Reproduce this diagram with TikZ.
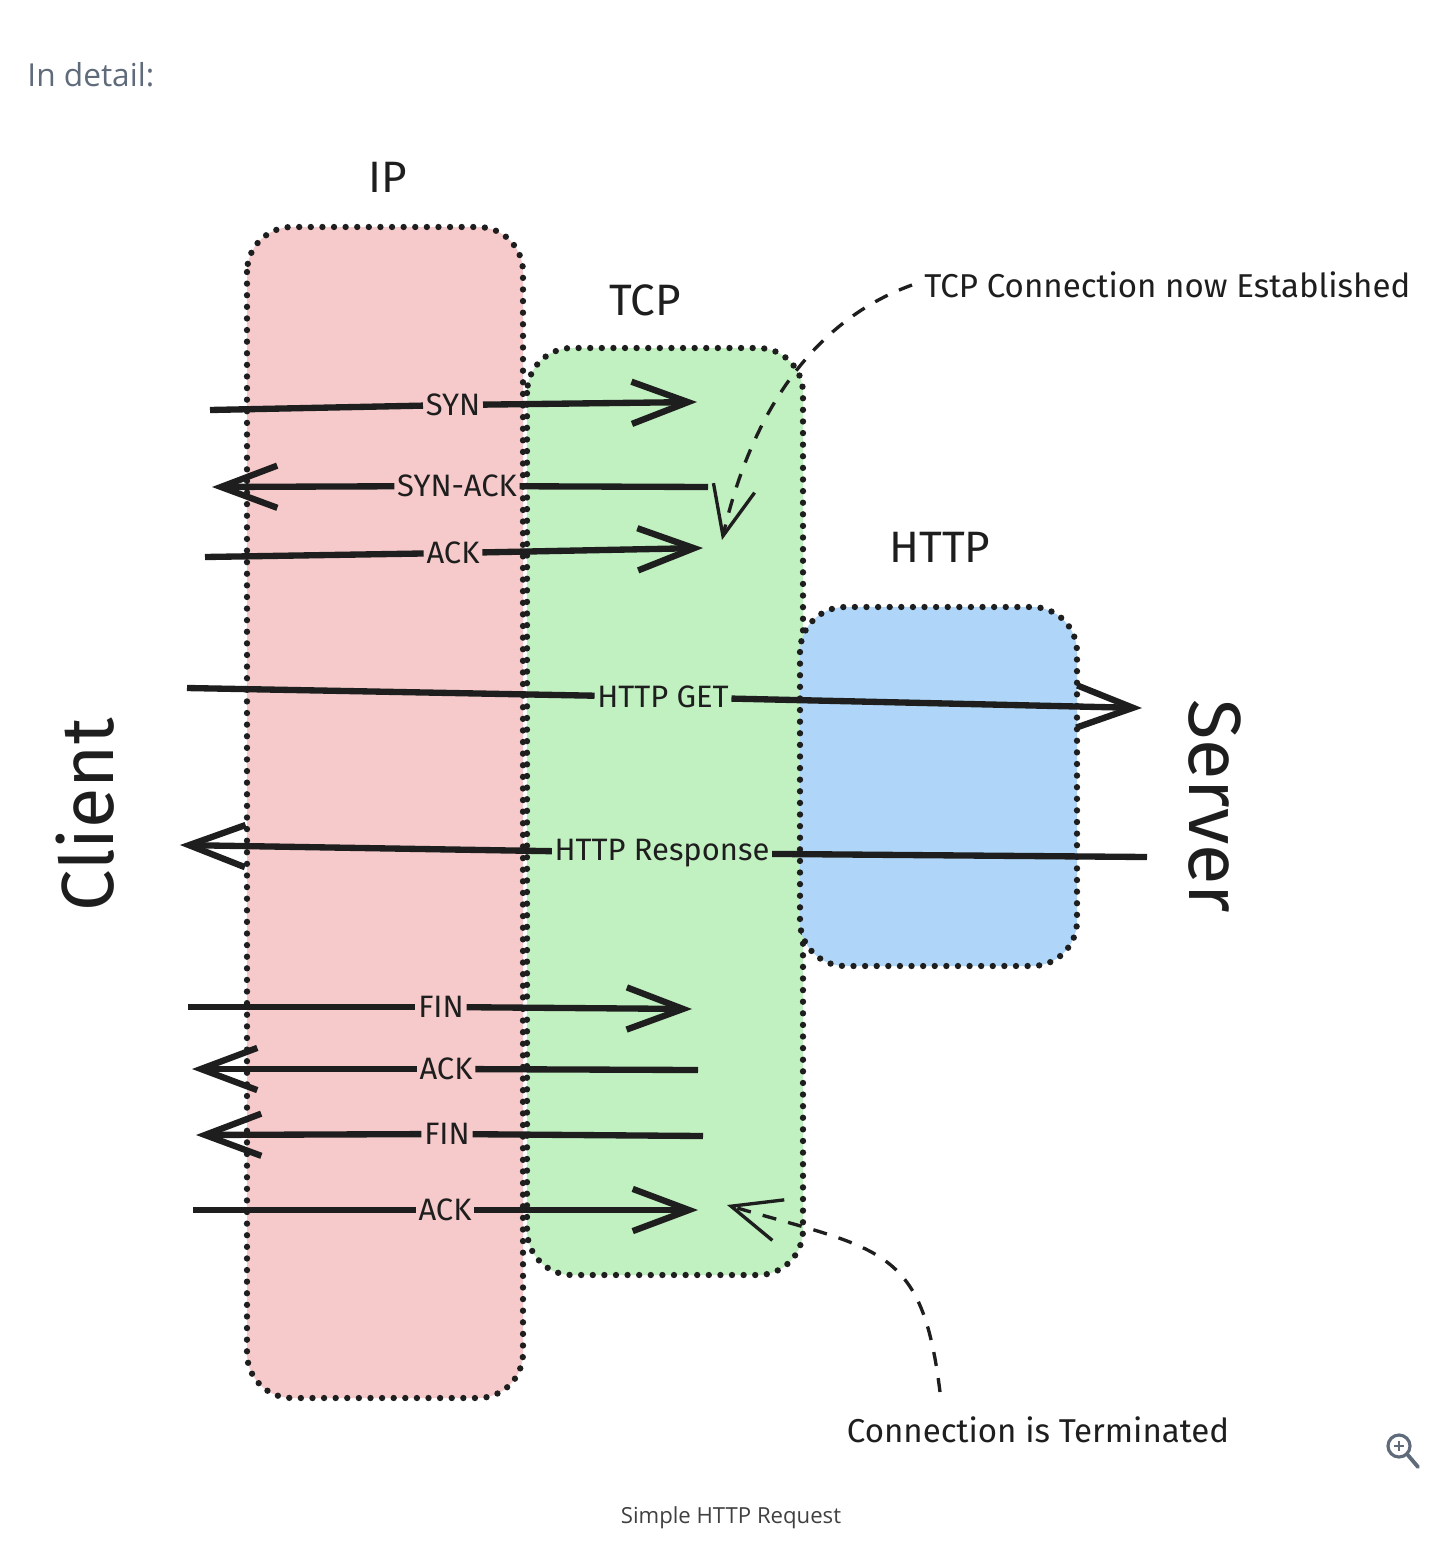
\documentclass[tikz,border=0pt]{standalone}
\usepackage{fontspec}
\setmainfont{Fira Sans}
\newfontfamily\pagefont{Open Sans}
\usetikzlibrary{arrows.meta}

\definecolor{ipred}{HTML}{F6CACA}
\definecolor{tcpgreen}{HTML}{C1F0C1}
\definecolor{httpblue}{HTML}{AFD6F8}
\definecolor{ink}{HTML}{1E1E1E}
\definecolor{slate}{HTML}{5F6B7B}

\newcommand{\fsize}[1]{\fontsize{#1}{#1}\selectfont}

\tikzset{
  layer/.style={draw=ink, line width=1.8pt, dash pattern=on 0pt off 3.3pt,
    line cap=round, rounded corners=0.45cm},
  wire/.style={draw=ink, line width=1.8pt},
  msg/.style={wire, -{Straight Barb[length=16pt,width=12pt]}},
  note/.style={draw=ink, line width=0.95pt, dash pattern=on 4pt off 3.5pt,
    -{Straight Barb[length=14pt,width=12pt]}},
  lbl/.style={text=ink, inner sep=0.6pt, font=\fsize{8.8pt}},
  layername/.style={text=ink, font=\fsize{12.5pt}},
  side/.style={text=ink, font=\fsize{21pt}},
  remark/.style={text=ink, font=\fsize{9.4pt}}
}

\begin{document}
\begin{tikzpicture}[x=0.01cm,y=-0.01cm]
\useasboundingbox (0,0) rectangle (1440,1542);

\node[anchor=west, text=slate, font=\pagefont\fsize{9pt}] (title) at (15,75) {In detail:};

% layers
\filldraw[layer, fill=ipred] (247,227) rectangle (523,1398);
\filldraw[layer, fill=tcpgreen] (527,348) rectangle (803,1275);
\filldraw[layer, fill=httpblue] (800,607) rectangle (1077,966);

\node[layername] (ip) at (388,177) {IP};
\node[layername] (tcp) at (645,300) {TCP};
\node[layername] (http) at (940,547) {HTTP};

\node[side, rotate=90] (client) at (85,815) {Client};
\node[side, rotate=-90] (server) at (1215,806) {Server};

% handshake
\coordinate (syn-a) at (210,410);
\coordinate (syn-b) at (697,402);
\node[lbl] (syn) at (453,405) {SYN};
\draw[wire] (syn-a) -- (syn);
\draw[msg] (syn) -- (syn-b);

\coordinate (synack-a) at (708,487);
\coordinate (synack-b) at (212,487);
\node[lbl] (synack) at (457,486) {SYN-ACK};
\draw[wire] (synack-a) -- (synack);
\draw[msg] (synack) -- (synack-b);

\coordinate (ack1-a) at (205,557);
\coordinate (ack1-b) at (703,548);
\node[lbl] (ack1) at (453,553) {ACK};
\draw[wire] (ack1-a) -- (ack1);
\draw[msg] (ack1) -- (ack1-b);

% request / response
\coordinate (get-a) at (187,688);
\coordinate (get-b) at (1142,708);
\node[lbl] (get) at (663,697) {HTTP GET};
\draw[wire] (get-a) -- (get);
\draw[msg] (get) -- (get-b);

\coordinate (resp-a) at (1147,857);
\coordinate (resp-b) at (180,845);
\node[lbl] (resp) at (662,853) {HTTP Response};
\draw[wire] (resp-a) -- (resp);
\draw[msg] (resp) -- (resp-b);

% teardown
\coordinate (fin1-a) at (188,1007);
\coordinate (fin1-b) at (692,1009);
\node[lbl] (fin1) at (441,1007) {FIN};
\draw[wire] (fin1-a) -- (fin1);
\draw[msg] (fin1) -- (fin1-b);

\coordinate (ack2-a) at (698,1070);
\coordinate (ack2-b) at (192,1069);
\node[lbl] (ack2) at (446,1069) {ACK};
\draw[wire] (ack2-a) -- (ack2);
\draw[msg] (ack2) -- (ack2-b);

\coordinate (fin2-a) at (703,1136);
\coordinate (fin2-b) at (196,1135);
\node[lbl] (fin2) at (447,1134) {FIN};
\draw[wire] (fin2-a) -- (fin2);
\draw[msg] (fin2) -- (fin2-b);

\coordinate (ack3-a) at (193,1210);
\coordinate (ack3-b) at (698,1210);
\node[lbl] (ack3) at (445,1210) {ACK};
\draw[wire] (ack3-a) -- (ack3);
\draw[msg] (ack3) -- (ack3-b);

% notes
\node[remark, anchor=west] (estab) at (912,285) {TCP Connection now Established};
\coordinate (estab-tip) at (722,540);
\draw[note] (estab.west) .. controls (815,320) and (752,410) .. (estab-tip);

\node[remark] (term) at (1038,1430) {Connection is Terminated};
\coordinate (term-from) at (940,1392);
\coordinate (term-tip) at (727,1205);
\draw[note] (term-from) .. controls (922,1245) and (880,1250) .. (term-tip);

\node[text=ink!85, font=\pagefont\fsize{6.3pt}] (caption) at (731,1518) {Simple HTTP Request};

% zoom icon
\draw[slate, line width=0.9pt] (1399,1446) circle[radius=0.11cm];
\draw[slate, line width=1.1pt, line cap=round] (1407,1454) -- (1418,1467);
\draw[slate, line width=0.7pt] (1394,1446) -- (1404,1446) (1399,1441) -- (1399,1451);
\end{tikzpicture}
\end{document}
